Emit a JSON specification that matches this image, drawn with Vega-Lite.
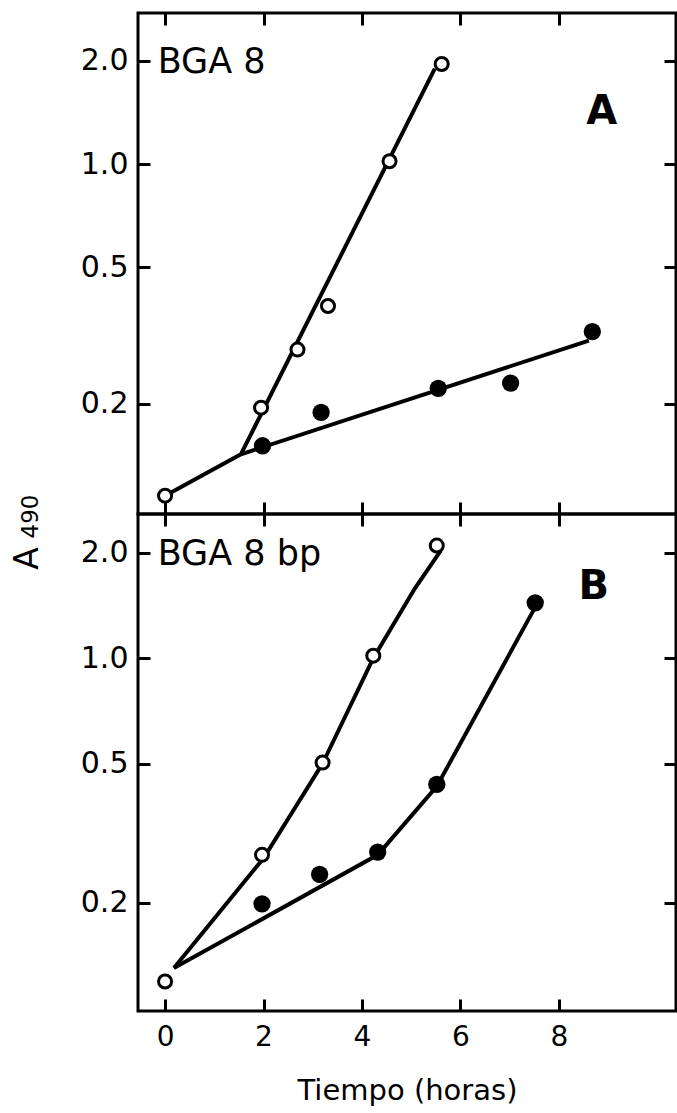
{
  "$schema": "https://vega.github.io/schema/vega-lite/v6.json",
  "autosize": {"type": "pad"},
  "padding": {"left": 9, "top": 10, "right": 0, "bottom": 0},
  "background": "white",
  "bounds": "flush",
  "config": {
    "view": {"stroke": "black", "strokeWidth": 3},
    "font": "DejaVu Sans",
    "axis": {
      "domain": false, "grid": false, "tickColor": "black", "tickWidth": 3,
      "labelColor": "black", "titleColor": "black",
      "labelFont": "DejaVu Sans", "titleFont": "DejaVu Sans",
      "titleFontWeight": "normal"
    },
    "concat": {"spacing": 0}
  },
  "datasets": {
    "points": [
      {"panel": "A", "series": "open", "x": 0, "y": 0.108},
      {"panel": "A", "series": "open", "x": 1.95, "y": 0.195},
      {"panel": "A", "series": "open", "x": 2.69, "y": 0.288},
      {"panel": "A", "series": "open", "x": 3.31, "y": 0.386},
      {"panel": "A", "series": "open", "x": 4.56, "y": 1.02},
      {"panel": "A", "series": "open", "x": 5.62, "y": 1.96},
      {"panel": "A", "series": "filled", "x": 1.98, "y": 0.151},
      {"panel": "A", "series": "filled", "x": 3.17, "y": 0.189},
      {"panel": "A", "series": "filled", "x": 5.55, "y": 0.222},
      {"panel": "A", "series": "filled", "x": 7.02, "y": 0.23},
      {"panel": "A", "series": "filled", "x": 8.68, "y": 0.325},
      {"panel": "B", "series": "open", "x": 0, "y": 0.119},
      {"panel": "B", "series": "open", "x": 1.97, "y": 0.274},
      {"panel": "B", "series": "open", "x": 3.2, "y": 0.503},
      {"panel": "B", "series": "open", "x": 4.23, "y": 1.017},
      {"panel": "B", "series": "open", "x": 5.52, "y": 2.1},
      {"panel": "B", "series": "filled", "x": 1.97, "y": 0.1985},
      {"panel": "B", "series": "filled", "x": 3.14, "y": 0.241},
      {"panel": "B", "series": "filled", "x": 4.32, "y": 0.279},
      {"panel": "B", "series": "filled", "x": 5.52, "y": 0.436},
      {"panel": "B", "series": "filled", "x": 7.52, "y": 1.44}
    ],
    "lines": [
      {"panel": "A", "series": "open", "x": 0, "y": 0.108},
      {"panel": "A", "series": "open", "x": 1.54, "y": 0.1426},
      {"panel": "A", "series": "open", "x": 5.48, "y": 1.9},
      {"panel": "A", "series": "filled", "x": 1.54, "y": 0.1426},
      {"panel": "A", "series": "filled", "x": 8.61, "y": 0.306},
      {"panel": "B", "series": "open", "x": 0.18, "y": 0.13},
      {"panel": "B", "series": "open", "x": 2.0, "y": 0.268},
      {"panel": "B", "series": "open", "x": 3.2, "y": 0.5},
      {"panel": "B", "series": "open", "x": 4.23, "y": 1.0},
      {"panel": "B", "series": "open", "x": 5.07, "y": 1.58},
      {"panel": "B", "series": "open", "x": 5.6, "y": 2.03},
      {"panel": "B", "series": "filled", "x": 0.18, "y": 0.13},
      {"panel": "B", "series": "filled", "x": 4.32, "y": 0.274},
      {"panel": "B", "series": "filled", "x": 5.52, "y": 0.43},
      {"panel": "B", "series": "filled", "x": 7.52, "y": 1.4}
    ],
    "names": [
      {"panel": "A", "x": -0.15, "y": 1.98, "label": "BGA 8"},
      {"panel": "B", "x": -0.15, "y": 1.99, "label": "BGA 8 bp"}
    ],
    "letters": [
      {"panel": "A", "x": 8.87, "y": 1.42, "label": "A"},
      {"panel": "B", "x": 8.71, "y": 1.6, "label": "B"}
    ]
  },
  "spacing": 0,
  "resolve": {"scale": {"x": "independent", "y": "independent"}},
  "vconcat": [
    {
      "width": 538,
      "height": 501,
      "resolve": {"axis": {"x": "independent", "y": "independent"}},
      "layer": [
        {
          "data": {"name": "lines"},
          "transform": [{"filter": "datum.panel == 'A'"}],
          "mark": {"type": "line", "color": "black", "strokeWidth": 4},
          "encoding": {
            "x": {"field": "x", "type": "quantitative", "scale": {"domain": [-0.55, 10.38], "nice": false, "zero": false},
                  "axis": {"orient": "top", "values": [0, 2, 4, 6, 8], "labels": false, "tickSize": -12, "title": null}},
            "y": {"field": "y", "type": "quantitative", "scale": {"type": "log", "domain": [0.0955, 2.76], "nice": false},
                  "axis": {"orient": "right", "values": [0.2, 0.5, 1, 2], "labels": false, "tickSize": -12, "title": null}},
            "detail": {"field": "series"}
          }
        },
        {
          "data": {"name": "points"},
          "transform": [{"filter": "datum.panel == 'A' && datum.series == 'open'"}],
          "mark": {"type": "point", "shape": "circle", "filled": false, "fill": "white", "stroke": "black", "strokeWidth": 3, "size": 170, "opacity": 1},
          "encoding": {
            "x": {"field": "x", "type": "quantitative",
                  "axis": {"orient": "bottom", "values": [0, 2, 4, 6, 8], "labels": false, "tickSize": -12, "title": null}},
            "y": {"field": "y", "type": "quantitative",
                  "axis": {"orient": "left", "values": [0.2, 0.5, 1, 2], "format": ".1f", "labelFontSize": 30, "labelPadding": 22, "tickSize": -12,
                           "title": "A", "titleFontSize": 33, "titleAngle": -90, "titleAlign": "center", "titleBaseline": "alphabetic", "titleX": -101, "titleY": 545}}
          }
        },
        {
          "data": {"name": "points"},
          "transform": [{"filter": "datum.panel == 'A' && datum.series == 'filled'"}],
          "mark": {"type": "point", "shape": "circle", "filled": true, "fill": "black", "size": 300, "opacity": 1},
          "encoding": {
            "x": {"field": "x", "type": "quantitative", "axis": null},
            "y": {"field": "y", "type": "quantitative", "axis": null}
          }
        },
        {
          "data": {"name": "names"},
          "transform": [{"filter": "datum.panel == 'A'"}],
          "mark": {"type": "text", "align": "left", "baseline": "middle", "fontSize": 35, "color": "black"},
          "encoding": {
            "x": {"field": "x", "type": "quantitative", "axis": null},
            "y": {"field": "y", "type": "quantitative", "axis": null},
            "text": {"field": "label"}
          }
        },
        {
          "data": {"name": "letters"},
          "transform": [{"filter": "datum.panel == 'A'"}],
          "mark": {"type": "text", "align": "center", "baseline": "middle", "fontSize": 40, "fontWeight": "bold", "color": "black"},
          "encoding": {
            "x": {"field": "x", "type": "quantitative", "axis": null},
            "y": {"field": "y", "type": "quantitative", "axis": null},
            "text": {"field": "label"}
          }
        }
      ]
    },
    {
      "width": 538,
      "height": 497,
      "resolve": {"axis": {"x": "independent", "y": "independent"}},
      "layer": [
        {
          "data": {"name": "lines"},
          "transform": [{"filter": "datum.panel == 'B'"}],
          "mark": {"type": "line", "color": "black", "strokeWidth": 4},
          "encoding": {
            "x": {"field": "x", "type": "quantitative", "scale": {"domain": [-0.55, 10.38], "nice": false, "zero": false},
                  "axis": {"orient": "top", "values": [0, 2, 4, 6, 8], "labels": false, "tickSize": -12, "title": null}},
            "y": {"field": "y", "type": "quantitative", "scale": {"type": "log", "domain": [0.098, 2.585], "nice": false},
                  "axis": {"orient": "right", "values": [0.2, 0.5, 1, 2], "labels": false, "tickSize": -12, "title": null}},
            "detail": {"field": "series"}
          }
        },
        {
          "data": {"name": "points"},
          "transform": [{"filter": "datum.panel == 'B' && datum.series == 'open'"}],
          "mark": {"type": "point", "shape": "circle", "filled": false, "fill": "white", "stroke": "black", "strokeWidth": 3, "size": 170, "opacity": 1},
          "encoding": {
            "x": {"field": "x", "type": "quantitative",
                  "axis": {"orient": "bottom", "values": [0, 2, 4, 6, 8], "labelFontSize": 28, "labelPadding": 24, "tickSize": -12,
                           "title": "Tiempo (horas)", "titleFontSize": 29, "titlePadding": 25}},
            "y": {"field": "y", "type": "quantitative",
                  "axis": {"orient": "left", "values": [0.2, 0.5, 1, 2], "format": ".1f", "labelFontSize": 30, "labelPadding": 22, "tickSize": -12,
                           "title": "490", "titleFontSize": 23, "titleAngle": -90, "titleAlign": "center", "titleBaseline": "alphabetic", "titleX": -101, "titleY": 2}}
          }
        },
        {
          "data": {"name": "points"},
          "transform": [{"filter": "datum.panel == 'B' && datum.series == 'filled'"}],
          "mark": {"type": "point", "shape": "circle", "filled": true, "fill": "black", "size": 300, "opacity": 1},
          "encoding": {
            "x": {"field": "x", "type": "quantitative", "axis": null},
            "y": {"field": "y", "type": "quantitative", "axis": null}
          }
        },
        {
          "data": {"name": "names"},
          "transform": [{"filter": "datum.panel == 'B'"}],
          "mark": {"type": "text", "align": "left", "baseline": "middle", "fontSize": 35, "color": "black"},
          "encoding": {
            "x": {"field": "x", "type": "quantitative", "axis": null},
            "y": {"field": "y", "type": "quantitative", "axis": null},
            "text": {"field": "label"}
          }
        },
        {
          "data": {"name": "letters"},
          "transform": [{"filter": "datum.panel == 'B'"}],
          "mark": {"type": "text", "align": "center", "baseline": "middle", "fontSize": 40, "fontWeight": "bold", "color": "black"},
          "encoding": {
            "x": {"field": "x", "type": "quantitative", "axis": null},
            "y": {"field": "y", "type": "quantitative", "axis": null},
            "text": {"field": "label"}
          }
        }
      ]
    }
  ]
}
